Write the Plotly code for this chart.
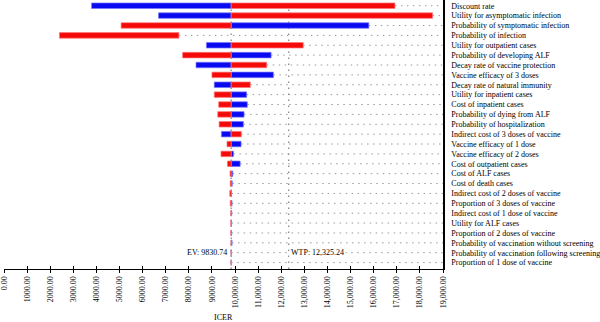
import plotly.graph_objects as go

# Tornado diagram of one-way sensitivity analysis on the ICER
parameters = [
    "Discount rate",
    "Utility for asymptomatic infection",
    "Probability of symptomatic infection",
    "Probability of infection",
    "Utility for outpatient cases",
    "Probability of developing ALF",
    "Decay rate of vaccine protection",
    "Vaccine efficacy of 3 doses",
    "Decay rate of natural immunity",
    "Utility for inpatient cases",
    "Cost of inpatient cases",
    "Probability of dying from ALF",
    "Probability of hospitalization",
    "Indirect cost of 3 doses of vaccine",
    "Vaccine efficacy of 1 dose",
    "Vaccine efficacy of 2 doses",
    "Cost of outpatient cases",
    "Cost of ALF cases",
    "Cost of death cases",
    "Indirect cost of 2 doses of vaccine",
    "Proportion of 3 doses of vaccine",
    "Indirect cost of 1 dose of vaccine",
    "Utility for ALF cases",
    "Proportion of 2 doses of vaccine",
    "Probability of vaccination without screening",
    "Probability of vaccination following screening",
    "Proportion of 1 dose of vaccine",
]

# ICER at the blue and red ends of each parameter range
icer_blue = [3790, 6690, 15790, 7570, 8760, 11560, 8310, 11660, 9100, 10500,
             10530, 10390, 10360, 9410, 10260, 9930, 10220, 9900, 9880, 9850,
             9870, 9855, 9850, 9850, 9870, 9834, 9832]
icer_red = [16920, 18550, 5070, 2400, 12950, 7730, 11370, 9000, 10660, 9100,
            9290, 9250, 9310, 10270, 9650, 9390, 9670, 9780, 9790, 9770,
            9790, 9815, 9820, 9820, 9825, 9828, 9829]

EV = 9830.74
WTP = 12325.24

x_tickvals = list(range(0, 19001, 1000))
x_ticktext = ["0.00", "1000.00", "2000.00", "3000.00", "4000.00", "5000.00",
              "6000.00", "7000.00", "8000.00", "9000.00", "10,000.00",
              "11,000.00", "12,000.00", "13,000.00", "14,000.00", "15,000.00",
              "16,000.00", "17,000.00", "18,000.00", "19,000.00"]

BLUE = "#0a0af0"
RED = "#f50a0a"
FONT = "Liberation Serif"
INK = "#000000"

rows = list(range(len(parameters)))

# Build bar segments: split at EV when the ends straddle it,
# otherwise a single bar spanning both ends in the colour of the farther end
seg = {"blue": ([], [], []), "red": ([], [], [])}
for i, (b, r) in enumerate(zip(icer_blue, icer_red)):
    if (b - EV) * (r - EV) <= 0:
        for key, v in (("blue", b), ("red", r)):
            lo, hi = min(v, EV), max(v, EV)
            seg[key][0].append(i)
            seg[key][1].append(lo)
            seg[key][2].append(hi - lo)
    else:
        key = "blue" if abs(b - EV) > abs(r - EV) else "red"
        lo, hi = min(b, r), max(b, r)
        seg[key][0].append(i)
        seg[key][1].append(lo)
        seg[key][2].append(hi - lo)

fig = go.Figure()
for key, fill, halo in (("blue", BLUE, "rgba(120,120,255,0.7)"),
                        ("red", RED, "rgba(255,120,120,0.7)")):
    ys, bases, lens = seg[key]
    fig.add_trace(go.Bar(
        y=ys, x=lens, base=bases, orientation="h", width=0.56,
        marker=dict(color=fill, line=dict(color=halo, width=1)),
        showlegend=False, hoverinfo="skip",
    ))

# invisible trace carrying the inside tick marks axis
fig.add_trace(go.Scatter(x=[0], y=[0], xaxis="x2", mode="markers",
                         marker=dict(opacity=0), showlegend=False,
                         hoverinfo="skip"))

shapes = []
# dotted guide for each row, from the bar end to the right edge
for i, (b, r) in enumerate(zip(icer_blue, icer_red)):
    start = max(b, r, EV) if (b - EV) * (r - EV) <= 0 else max(b, r)
    shapes.append(dict(type="line", xref="x", yref="y", x0=start, x1=19000,
                       y0=i, y1=i, layer="below",
                       line=dict(color="#9a9a9a", width=1, dash="1.5px,4.5px")))
# EV and WTP reference lines
for xv in (EV, WTP):
    shapes.append(dict(type="line", xref="x", yref="paper", x0=xv, x1=xv,
                       y0=0, y1=1, layer="below",
                       line=dict(color="#666666", width=1, dash="1.5px,4.5px")))

annotations = [
    dict(x=EV, y=25, xref="x", yref="y", text=f"EV: {EV:.2f}",
         showarrow=False, xanchor="right", xshift=-2,
         font=dict(family=FONT, size=8, color=INK)),
    dict(x=WTP, y=25, xref="x", yref="y", text=f"WTP: {WTP:,.2f}",
         showarrow=False, xanchor="left", xshift=0, bgcolor="white",
         font=dict(family=FONT, size=8, color=INK)),
    dict(x=0.5, y=0, xref="paper", yref="paper", text="ICER",
         showarrow=False, xanchor="center", yanchor="middle", yshift=-48,
         font=dict(family=FONT, size=8, color=INK)),
]

fig.update_layout(
    template="none",
    width=600, height=322,
    margin=dict(l=3.5, r=157.3, t=0, b=52.7, pad=0),
    paper_bgcolor="white", plot_bgcolor="white",
    barmode="overlay",
    showlegend=False,
    shapes=shapes,
    annotations=annotations,
    xaxis=dict(
        range=[0, 19000], showgrid=False, zeroline=False,
        showline=True, linecolor=INK, linewidth=1,
        ticks="outside", ticklen=3, tickwidth=1, tickcolor=INK,
        tickvals=x_tickvals, ticktext=x_ticktext, tickangle=-90,
        ticklabeloverflow="allow",
        tickfont=dict(family=FONT, size=8, color=INK),
        automargin=False, fixedrange=True,
    ),
    xaxis2=dict(
        range=[0, 19000], overlaying="x", anchor="y", side="bottom",
        showgrid=False, zeroline=False, showline=False,
        ticks="inside", ticklen=3, tickwidth=1, tickcolor=INK,
        tickvals=x_tickvals, showticklabels=False, automargin=False,
    ),
    yaxis=dict(
        range=[26.65, -0.58], side="right", showgrid=False, zeroline=False,
        showline=True, linecolor=INK, linewidth=1.5,
        ticks="outside", ticklen=5, tickcolor="rgba(0,0,0,0)",
        tickvals=rows, ticktext=parameters,
        tickfont=dict(family=FONT, size=8, color=INK),
        automargin=False, fixedrange=True,
    ),
)

fig.write_html("out.html")
